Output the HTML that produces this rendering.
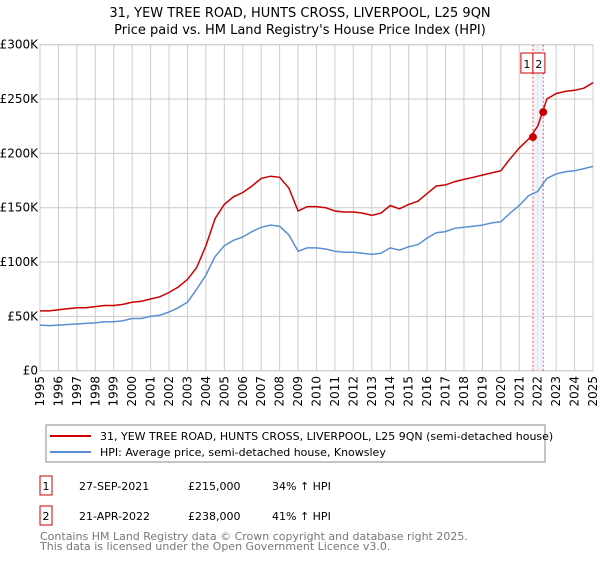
<!DOCTYPE html>
<html><head><meta charset="utf-8"><style>
body{margin:0;width:600px;height:560px;background:#fff;font-family:"DejaVu Sans","Liberation Sans",sans-serif;overflow:hidden}
svg text{font-family:"DejaVu Sans","Liberation Sans",sans-serif}
</style></head><body>
<svg id="c" width="600" height="560" xmlns="http://www.w3.org/2000/svg">
<text x="300" y="17" text-anchor="middle" font-size="13" fill="#000">31, YEW TREE ROAD, HUNTS CROSS, LIVERPOOL, L25 9QN</text>
<text x="300" y="34" text-anchor="middle" font-size="13" fill="#000">Price paid vs. HM Land Registry's House Price Index (HPI)</text>
<g id="grid"></g><g id="marks"></g><g id="axes"></g>
<rect x="46" y="425" width="499" height="37" fill="#fff" stroke="#888"/>
<line x1="50" y1="436" x2="91" y2="436" stroke="#cc0000" stroke-width="2"/>
<text x="100" y="440" font-size="11">31, YEW TREE ROAD, HUNTS CROSS, LIVERPOOL, L25 9QN (semi-detached house)</text>
<line x1="50" y1="452" x2="91" y2="452" stroke="#5b8fd4" stroke-width="2"/>
<text x="100" y="456" font-size="11">HPI: Average price, semi-detached house, Knowsley</text>
<rect x="40" y="476" width="12" height="19" fill="#fff" stroke="#cc0000"/>
<text x="46" y="490" font-size="11" text-anchor="middle">1</text>
<text x="79" y="490" font-size="11">27-SEP-2021</text>
<text x="188" y="490" font-size="11">£215,000</text>
<text x="272" y="490" font-size="11">34% ↑ HPI</text>
<rect x="40" y="506" width="12" height="19" fill="#fff" stroke="#cc0000"/>
<text x="46" y="520" font-size="11" text-anchor="middle">2</text>
<text x="79" y="520" font-size="11">21-APR-2022</text>
<text x="188" y="520" font-size="11">£238,000</text>
<text x="272" y="520" font-size="11">41% ↑ HPI</text>
<text x="40" y="540" font-size="11" fill="#777">Contains HM Land Registry data © Crown copyright and database right 2025.</text>
<text x="40" y="550" font-size="11" fill="#777">This data is licensed under the Open Government Licence v3.0.</text>
</svg>
<script>
const years=[1995,1995.5,1996,1996.5,1997,1997.5,1998,1998.5,1999,1999.5,2000,2000.5,2001,2001.5,2002,2002.5,2003,2003.5,2004,2004.5,2005,2005.5,2006,2006.5,2007,2007.5,2008,2008.5,2009,2009.5,2010,2010.5,2011,2011.5,2012,2012.5,2013,2013.5,2014,2014.5,2015,2015.5,2016,2016.5,2017,2017.5,2018,2018.5,2019,2019.5,2020,2020.5,2021,2021.5,2022,2022.5,2023,2023.5,2024,2024.5,2025];
const hpiValues=[42,41.5,42,42.5,43,43.5,44,45,45,46,48,48,50,51,54,58,63,75,88,105,115,120,123,128,132,134,133,125,110,113,113,112,110,109,109,108,107,108,113,111,114,116,122,127,128,131,132,133,134,136,137,145,152,161,165,177,181,183,184,186,188];
const priceValues=[55,55,56,57,58,58,59,60,60,61,63,64,66,68,72,77,84,95,115,140,153,160,164,170,177,179,178,168,147,151,151,150,147,146,146,145,143,145,152,149,153,156,163,170,171,174,176,178,180,182,184,195,205,213,225,250,255,257,258,260,265];
const saleYears=[2021.74,2022.3];
const salePrices=[215,238];
const saleLabels=["1","2"];
const yTicks=[0,50,100,150,200,250,300];
const yTickLabels=["£0","£50K","£100K","£150K","£200K","£250K","£300K"];
const xTicks=[];for(let y=1995;y<=2025;y++)xTicks.push(y);

const X0=40,X1=593,Y0=370.7,Y1=44.7;
const xs=v=>X0+(v-1995)/30*(X1-X0);
const ys=v=>Y0-(v/300)*(Y0-Y1);
const NS="http://www.w3.org/2000/svg";
function mk(tag,attrs,parent){const e=document.createElementNS(NS,tag);for(const k in attrs)e.setAttribute(k,attrs[k]);parent.appendChild(e);return e;}
const grid=document.getElementById('grid'),marks=document.getElementById('marks'),axes=document.getElementById('axes');
xTicks.forEach(t=>{const l=mk('line',{x1:xs(t),x2:xs(t),y1:Y1,y2:Y0,stroke:'#ccc'},grid);


const tx=mk('text',{x:0,y:0,'font-size':'12','text-anchor':'end',transform:`translate(${xs(t)+4},376) rotate(-90)`},axes);
tx.textContent=t;

});
yTicks.forEach((t,i)=>{const l=mk('line',{x1:X0,x2:X1,y1:ys(t),y2:ys(t),stroke:'#ccc'},grid);


const tx=mk('text',{x:X0-2,y:ys(t)+4,'font-size':'12','text-anchor':'end'},axes);
tx.textContent=yTickLabels[i];

});
const band=mk('rect',{x:xs(saleYears[0]),y:Y1,width:xs(saleYears[1])-xs(saleYears[0]),height:Y0-Y1,fill:'#e8eef8',opacity:0.7},grid);


const frame=mk('rect',{x:X0,y:Y1,width:X1-X0,height:Y0-Y1,fill:'none',stroke:'#ccc'},grid);


saleYears.forEach((s,i)=>{const l=mk('line',{x1:xs(s),x2:xs(s),y1:Y1,y2:Y0,stroke:'#e55','stroke-dasharray':'2,2'},grid);


const bx=xs(saleYears[0])+(i===0?-12:0);
const r=mk('rect',{x:bx,y:53,width:12,height:20,fill:'#fff',stroke:'#cc0000'},axes);


const t=mk('text',{x:bx+6,y:68,'font-size':'11','text-anchor':'middle'},axes);
t.textContent=saleLabels[i];

});
const pts=a=>years.map((y,i)=>xs(y).toFixed(1)+','+ys(a[i]).toFixed(1)).join(' ');
const hl=mk('polyline',{points:pts(hpiValues),fill:'none',stroke:'#5b8fd4','stroke-width':1.5},marks);


const pl=mk('polyline',{points:pts(priceValues),fill:'none',stroke:'#cc0000','stroke-width':1.5},marks);


saleYears.forEach((s,i)=>{const c=mk('circle',{cx:xs(s),cy:ys(salePrices[i]),r:4,fill:'#cc0000'},marks);

});
</script>
</body></html>
